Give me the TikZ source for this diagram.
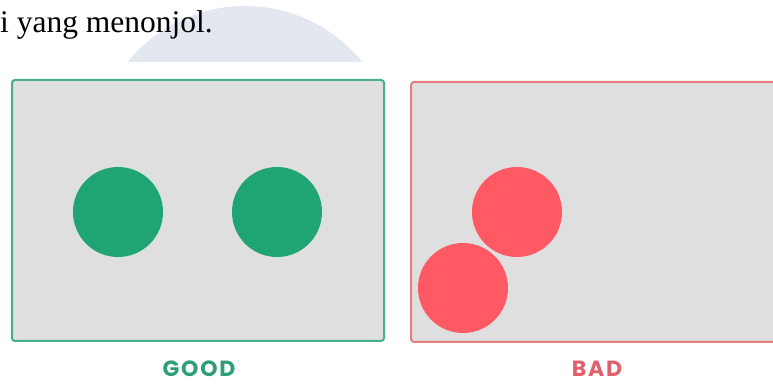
\documentclass[tikz,border=0pt]{standalone}
\usepackage{fontspec}
\setmainfont{Liberation Serif}
\newfontfamily\tagfont[LetterSpace=8]{Poppins}
\usepackage{xcolor}
\definecolor{panelgray}{HTML}{DFDFDF}
\definecolor{goodline}{HTML}{47B086}
\definecolor{goodfill}{HTML}{1FA474}
\definecolor{goodtext}{HTML}{2E9E74}
\definecolor{badline}{HTML}{E57D85}
\definecolor{badfill}{HTML}{FF5A64}
\definecolor{badtext}{HTML}{E0606C}
\definecolor{archaze}{HTML}{E3E7EF}
\usetikzlibrary{positioning}

\begin{document}
\begin{tikzpicture}[x=1pt, y=1pt,
    panel/.style={fill=panelgray, line width=2pt, rounded corners=3pt},
    dot/.style={circle, inner sep=0pt, minimum size=90pt},
    tag/.style={font=\tagfont\bfseries\fontsize{22}{22}\selectfont, inner sep=0pt}]
  \useasboundingbox (0,0) rectangle (773,385);
  % faint arc behind the text
  \begin{scope}
    \clip (0,323) rectangle (773,385);
    \fill[archaze] (245,228) circle (151);
  \end{scope}
  \node[anchor=base west, inner sep=0pt, font=\fontsize{31.5}{31.5}\selectfont]
    (line) at (0,352) {i yang menonjol.};
  % good panel
  \draw[panel, draw=goodline] (12,44) rectangle (384,305);
  \node[dot, fill=goodfill] (g1) at (118,173) {};
  \node[dot, fill=goodfill] (g2) at (277,173) {};
  \node[tag, text=goodtext] (good) at (199,16) {GOOD};
  % bad panel
  \draw[panel, draw=badline] (411,43) rectangle (778,303);
  \node[dot, fill=badfill] (b1) at (517,173) {};
  \node[dot, fill=badfill] (b2) at (463,97) {};
  \node[tag, text=badtext] (bad) at (597,16) {BAD};
\end{tikzpicture}
\end{document}
